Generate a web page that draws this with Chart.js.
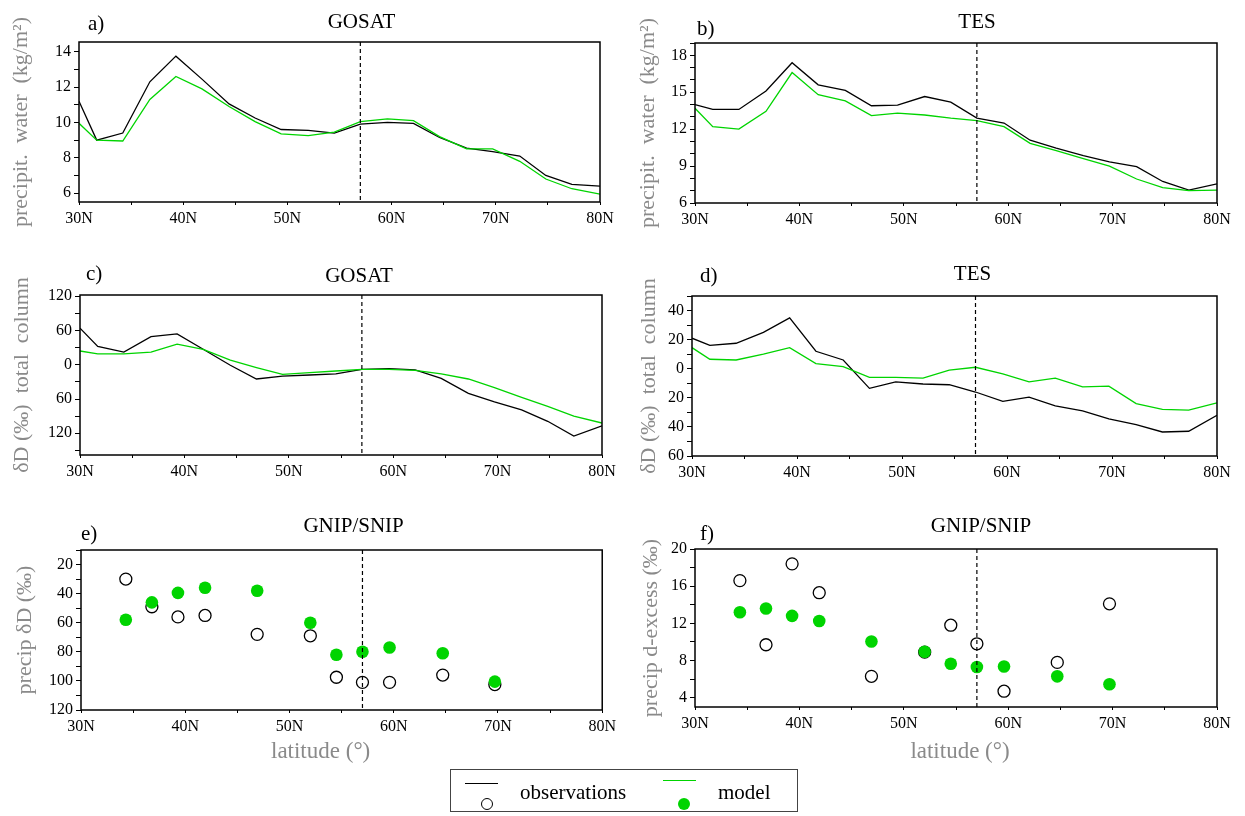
<!DOCTYPE html>
<html>
<head>
<meta charset="utf-8">
<script src="https://cdn.jsdelivr.net/npm/chart.js@4.4.1/dist/chart.umd.min.js"></script>
<style>
  body { margin: 0; background: #fff; width: 1245px; height: 816px; position: relative; overflow: hidden; font-family: "Liberation Serif", serif; }
  canvas.panel { position: absolute; }
  #legend { position: absolute; left: 450px; top: 769px; width: 348px; height: 43px; border: 1px solid #444; box-sizing: border-box; }
  #legend .ln { position: absolute; height: 1px; width: 33px; }
  #legend .mk { position: absolute; width: 12px; height: 12px; border-radius: 50%; box-sizing: border-box; }
  #legend span { position: absolute; top: 10px; font-size: 21px; line-height: 24px; color: #000; }
</style>
</head>
<body>
<canvas id="pa" class="panel"></canvas>
<canvas id="pb" class="panel"></canvas>
<canvas id="pc" class="panel"></canvas>
<canvas id="pd" class="panel"></canvas>
<canvas id="pe" class="panel"></canvas>
<canvas id="pf" class="panel"></canvas>
<div id="legend">
  <div class="ln" style="left:14px; top:13px; background:#000"></div>
  <div class="mk" style="left:30px; top:28px; border:1.3px solid #000"></div>
  <span id="lgObs" style="left:69px"></span>
  <div class="ln" style="left:212px; top:10px; background:#00d400"></div>
  <div class="mk" style="left:227px; top:28px; background:#00d400"></div>
  <span id="lgModel" style="left:267px"></span>
</div>
<script>
// latitude grid of the zonal means (degrees N)
const latGrid = [30, 31.7, 34.2, 36.8, 39.3, 41.8, 44.4, 46.9, 49.4, 52.0, 54.5, 57.0, 59.6, 62.1, 64.6, 67.2, 69.7, 72.3, 74.8, 77.3, 80];

// a) GOSAT precipitable water
const gosatPwObs   = [11.2, 9.0, 9.4, 12.3, 13.75, 12.45, 11.05, 10.25, 9.6, 9.55, 9.4, 9.9, 10.0, 9.95, 9.15, 8.55, 8.35, 8.1, 7.0, 6.5, 6.4];
const gosatPwModel = [9.95, 9.0, 8.95, 11.3, 12.6, 11.9, 10.9, 10.05, 9.35, 9.25, 9.45, 10.05, 10.2, 10.1, 9.2, 8.5, 8.5, 7.8, 6.8, 6.25, 5.95];
// b) TES precipitable water
const tesPwObs   = [14.0, 13.6, 13.6, 15.1, 17.4, 15.6, 15.15, 13.9, 13.95, 14.65, 14.2, 12.9, 12.5, 11.1, 10.45, 9.85, 9.35, 8.95, 7.75, 7.05, 7.55];
const tesPwModel = [13.7, 12.2, 12.0, 13.45, 16.6, 14.8, 14.3, 13.1, 13.3, 13.15, 12.9, 12.7, 12.2, 10.85, 10.25, 9.6, 9.0, 7.95, 7.25, 7.0, 7.05];
// c) GOSAT total column dD
const gosatDdObs   = [64, 32, 22, 49, 54, 27, -1, -25, -20, -18, -16, -8, -7, -9, -24, -50, -65, -79, -99, -125, -107];
const gosatDdModel = [24, 19, 19, 22, 36, 27, 8, -5, -17, -14, -11, -8, -8, -10, -16, -25, -40, -57, -73, -90, -102];
// d) TES total column dD
const tesDdObs   = [21, 16, 17.5, 25, 35, 12, 6, -13.5, -9, -10.5, -11, -16, -22.5, -19.5, -25.5, -29, -34.5, -38.5, -43.5, -43, -32];
const tesDdModel = [14.5, 6.5, 6, 10, 14.5, 3.5, 1.5, -6, -6, -6.5, -1, 1, -3.5, -9, -6.5, -12.5, -12, -24, -28, -28.5, -23.5];

// e/f) GNIP/SNIP stations
const stationLat = [34.3, 36.8, 39.3, 41.9, 46.9, 52.0, 54.5, 57.0, 59.6, 64.7, 69.7];
const precipDdObs   = [-30, -49, -56, -55, -68, -69, -97.5, -101, -101, -96, -102.5];
const precipDdModel = [-58, -46, -39.5, -36, -38, -60, -82, -80, -77, -81, -100.5];
const dexcessObs   = [16.6, 9.7, 18.4, 15.3, 6.3, 8.9, 11.8, 9.8, 4.7, 7.8, 14.1];
const dexcessModel = [13.2, 13.6, 12.8, 12.25, 10.05, 8.95, 7.65, 7.3, 7.35, 6.3, 5.45];

const seriesNames = ["observations", "model"];
const dividerLat = 57;

const OBS_COLOR = "#000000";
const MODEL_COLOR = "#00d400";

const onStep = (v, s) => Math.abs(v / s - Math.round(v / s)) < 1e-6;
const pts = (xs, ys) => xs.map((x, i) => ({ x, y: ys[i] }));

const panelDecor = {
    id: "panelDecor",
    afterDraw(chart, args, o) {
        const { ctx, chartArea: a, scales } = chart;
        ctx.save();
        // dashed reference latitude
        const xd = scales.x.getPixelForValue(dividerLat);
        ctx.strokeStyle = "#000";
        ctx.lineWidth = 1.2;
        ctx.setLineDash([4, 3]);
        ctx.beginPath();
        ctx.moveTo(xd, a.top);
        ctx.lineTo(xd, a.bottom);
        ctx.stroke();
        ctx.setLineDash([]);
        // frame
        ctx.lineWidth = 1.5;
        ctx.strokeRect(a.left, a.top, a.right - a.left, a.bottom - a.top);
        // panel letter + title
        ctx.fillStyle = "#000";
        ctx.font = '21px "Liberation Serif"';
        ctx.textBaseline = "alphabetic";
        ctx.textAlign = "left";
        ctx.fillText(o.letter, a.left + o.letterDx, a.top + o.letterDy);
        ctx.textAlign = "center";
        ctx.fillText(o.title, (a.left + a.right) / 2 + o.titleDx, a.top + o.titleDy);
        if (o.xTitle) {
            ctx.fillStyle = "#8a8a8a";
            ctx.font = '23px "Liberation Serif"';
            ctx.textBaseline = "middle";
            ctx.fillText(o.xTitle, (a.left + a.right) / 2 + o.xTitleDx, a.bottom + o.xTitleDy);
        }
        ctx.restore();
    },
};

function lineSets(obs, model) {
    return [
        { label: seriesNames[1], data: pts(latGrid, model), showLine: true, borderColor: MODEL_COLOR,
          borderWidth: 1.3, pointRadius: 0, order: 0 },
        { label: seriesNames[0], data: pts(latGrid, obs), showLine: true, borderColor: OBS_COLOR,
          borderWidth: 1.3, pointRadius: 0, order: 1 },
    ];
}

function dotSets(obs, model) {
    return [
        { label: seriesNames[1], data: pts(stationLat, model), showLine: false, pointRadius: 6.3,
          pointBackgroundColor: MODEL_COLOR, pointBorderColor: MODEL_COLOR, pointBorderWidth: 0, order: 0 },
        { label: seriesNames[0], data: pts(stationLat, obs), showLine: false, pointRadius: 6,
          pointBackgroundColor: "rgba(0,0,0,0)", pointBorderColor: "#000", pointBorderWidth: 1.3, order: 1 },
    ];
}

function panel(cfg) {
    const el = document.getElementById(cfg.id);
    const c = cfg.canvas;
    el.width = c.w;
    el.height = c.h;
    el.style.left = c.left + "px";
    el.style.top = c.top + "px";
    const ar = cfg.area;
    const tickFont = { family: "Liberation Serif", size: 16 };
    return new Chart(el, {
        type: "scatter",
        data: { datasets: cfg.datasets },
        plugins: [panelDecor],
        options: {
            responsive: false,
            animation: false,
            devicePixelRatio: 1,
            events: [],
            layout: { padding: { left: 0, bottom: 0, top: ar.top - c.top, right: c.left + c.w - ar.right } },
            plugins: {
                legend: { display: false },
                tooltip: { enabled: false },
                panelDecor: cfg.decor,
            },
            scales: {
                x: {
                    type: "linear", min: 30, max: 80,
                    afterFit: (s) => { s.height = c.top + c.h - ar.bottom; },
                    ticks: { stepSize: 5, autoSkip: false, maxRotation: 0, padding: 4, color: "#000", font: tickFont,
                             callback: (v) => (onStep(v, 10) ? v + "N" : "") },
                    grid: { drawOnChartArea: false, drawTicks: true, tickLength: 3, color: "#000" },
                    border: { display: false },
                },
                y: {
                    type: "linear", min: cfg.yMin, max: cfg.yMax,
                    afterFit: (s) => { s.width = ar.left - c.left; },
                    afterBuildTicks: (s) => { s.ticks = s.ticks.filter((t) => onStep(t.value, cfg.yStep)); },
                    ticks: { stepSize: cfg.yStep, includeBounds: false, autoSkip: false, padding: 3, color: "#000", font: tickFont,
                             callback: (v) => (onStep(v, cfg.yLabelStep) ? String(Math.abs(Math.round(v))) : "") },
                    grid: { drawOnChartArea: false, drawTicks: true, tickLength: 5, color: "#000" },
                    border: { display: false },
                    title: { display: true, text: cfg.yTitle, color: "#8a8a8a",
                             font: { family: "Liberation Serif", size: 22 }, padding: { top: cfg.yTitlePad, bottom: 0 } },
                },
            },
        },
    });
}

panel({
    id: "pa", canvas: { left: 0, top: 0, w: 620, h: 240 }, area: { left: 79, right: 600, top: 42, bottom: 202 },
    datasets: lineSets(gosatPwObs, gosatPwModel),
    yMin: 5.5, yMax: 14.55, yStep: 1, yLabelStep: 2,
    yTitle: "precipit.  water  (kg/m²)", yTitlePad: 8,
    decor: { letter: "a)", letterDx: 9, letterDy: -12, title: "GOSAT", titleDx: 22, titleDy: -14 },
});
panel({
    id: "pb", canvas: { left: 620, top: 0, w: 625, h: 240 }, area: { left: 695, right: 1217, top: 43, bottom: 203 },
    datasets: lineSets(tesPwObs, tesPwModel),
    yMin: 6, yMax: 19, yStep: 1, yLabelStep: 3,
    yTitle: "precipit.  water  (kg/m²)", yTitlePad: 15,
    decor: { letter: "b)", letterDx: 2, letterDy: -8, title: "TES", titleDx: 21, titleDy: -15 },
});
panel({
    id: "pc", canvas: { left: 0, top: 250, w: 620, h: 240 }, area: { left: 80, right: 602, top: 295, bottom: 455 },
    datasets: lineSets(gosatDdObs, gosatDdModel),
    yMin: -158, yMax: 122, yStep: 30, yLabelStep: 60,
    yTitle: "δD (‰)  total  column", yTitlePad: 9,
    decor: { letter: "c)", letterDx: 6, letterDy: -15, title: "GOSAT", titleDx: 18, titleDy: -13 },
});
panel({
    id: "pd", canvas: { left: 620, top: 250, w: 625, h: 240 }, area: { left: 692, right: 1217, top: 296, bottom: 456 },
    datasets: lineSets(tesDdObs, tesDdModel),
    yMin: -60, yMax: 50, yStep: 10, yLabelStep: 20,
    yTitle: "δD (‰)  total  column", yTitlePad: 16,
    decor: { letter: "d)", letterDx: 8, letterDy: -14, title: "TES", titleDx: 18, titleDy: -16 },
});
panel({
    id: "pe", canvas: { left: 0, top: 495, w: 620, h: 275 }, area: { left: 81, right: 603, top: 550, bottom: 710 },
    datasets: dotSets(precipDdObs, precipDdModel),
    yMin: -120, yMax: -10, yStep: 10, yLabelStep: 20,
    yTitle: "precip δD (‰)", yTitlePad: 12,
    decor: { letter: "e)", letterDx: 0, letterDy: -10, title: "GNIP/SNIP", titleDx: 12, titleDy: -18,
             xTitle: "latitude (°)", xTitleDx: -21, xTitleDy: 42 },
});
panel({
    id: "pf", canvas: { left: 620, top: 495, w: 625, h: 275 }, area: { left: 695, right: 1217, top: 549, bottom: 707 },
    datasets: dotSets(dexcessObs, dexcessModel),
    yMin: 3, yMax: 20, yStep: 2, yLabelStep: 4,
    yTitle: "precip d-excess (‰)", yTitlePad: 18,
    decor: { letter: "f)", letterDx: 5, letterDy: -9, title: "GNIP/SNIP", titleDx: 25, titleDy: -17,
             xTitle: "latitude (°)", xTitleDx: 4, xTitleDy: 45 },
});

document.getElementById("lgObs").textContent = seriesNames[0];
document.getElementById("lgModel").textContent = seriesNames[1];
</script>
</body>
</html>
